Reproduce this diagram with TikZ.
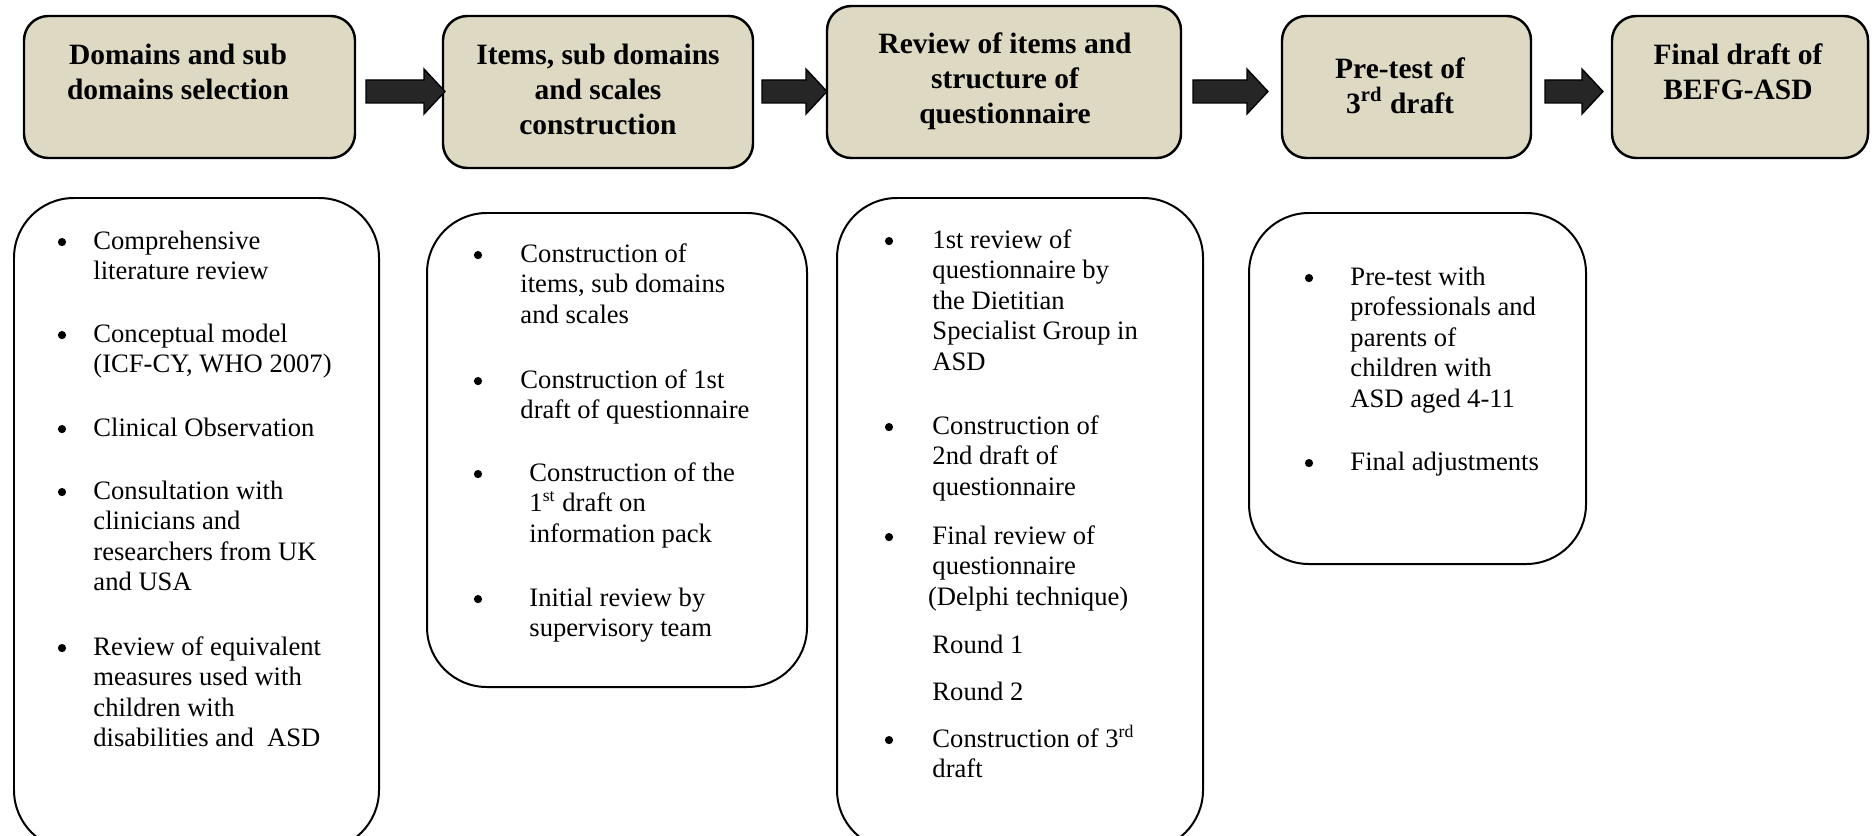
\documentclass[tikz,border=0pt]{standalone}
\usepackage{fontspec}
\setmainfont{Liberation Serif}
\usetikzlibrary{calc,fit}

\definecolor{stagefill}{HTML}{DDD9C3}
\definecolor{arrowfill}{HTML}{262626}

% struts fixing the height of the first line of each text block
\newcommand\itemstrut{\rule{0pt}{10pt}}
\newcommand\titlestrut{\rule{0pt}{11pt}}

\tikzset{
  stagebox/.style={draw=black, line width=1.1pt, fill=stagefill, rounded corners=11pt, inner sep=0pt},
  notebox/.style={draw=black, line width=0.9pt, fill=white, rounded corners=27pt, inner sep=0pt},
  stagetitle/.style={anchor=north, inner sep=0pt, align=center,
    font=\fontsize{13.3pt}{15.65pt}\selectfont\bfseries},
  itemtext/.style={anchor=north west, inner sep=0pt, align=left,
    font=\fontsize{12pt}{13.76pt}\selectfont},
  bulletmark/.style={circle, fill=black, inner sep=0pt, minimum size=3.7pt, yshift=2.9pt},
  blockarrow/.style={draw=black, line width=0.6pt, fill=arrowfill},
}

% thick block arrow from tail coordinate #1 to tip coordinate #2
\newcommand\blockarrowdraw[2]{%
  \draw[blockarrow] ($(#1)+(0,-11.5)$) -- ($(#2)+(-21,-11.5)$) -- ($(#2)+(-21,-22.5)$)
    -- (#2) -- ($(#2)+(-21,22.5)$) -- ($(#2)+(-21,11.5)$) -- ($(#1)+(0,11.5)$) -- cycle;}

\begin{document}
\begin{tikzpicture}[x=0.451pt, y=-0.451pt]
\useasboundingbox (0,0) rectangle (1874,835);

% ---------- stage boxes ----------
\node[stagebox, fit={(24,16) (355,158)}] (b1) {};
\node[stagebox, fit={(443,16) (753,168)}] (b2) {};
\node[stagebox, fit={(827,6) (1181,158)}] (b3) {};
\node[stagebox, fit={(1282,16) (1531,158)}] (b4) {};
\node[stagebox, fit={(1612,16) (1868,158)}] (b5) {};

\node[stagetitle] (t1) at (178,40) {\titlestrut Domains and sub\\domains selection};
\node[stagetitle] (t2) at (598,40) {\titlestrut Items, sub domains\\and scales\\construction};
\node[stagetitle] (t3) at (1005,29) {\titlestrut Review of items and\\structure of\\questionnaire};
\node[stagetitle] (t4) at (1400,54) {\titlestrut Pre-test of\\3\textsuperscript{rd} draft};
\node[stagetitle] (t5) at (1738,40) {\titlestrut Final draft of\\BEFG-ASD};

% ---------- arrows between stages ----------
\coordinate (a1s) at (366,91.5);  \coordinate (a1e) at (445,91.5);
\coordinate (a2s) at (762,91.5);  \coordinate (a2e) at (827,91.5);
\coordinate (a3s) at (1193,91.5); \coordinate (a3e) at (1268,91.5);
\coordinate (a4s) at (1545,91.5); \coordinate (a4e) at (1603,91.5);
\blockarrowdraw{a1s}{a1e}
\blockarrowdraw{a2s}{a2e}
\blockarrowdraw{a3s}{a3e}
\blockarrowdraw{a4s}{a4e}

% ---------- detail boxes ----------
\node[notebox, fit={(14,198) (379,850)}] (n1) {};
\node[notebox, fit={(427,213) (807,687)}] (n2) {};
\node[notebox, fit={(837,198) (1203,850)}] (n3) {};
\node[notebox, fit={(1249,213) (1586,564)}] (n4) {};

% column 1
\node[bulletmark] (p1a) at (62,248.5) {};
\node[itemtext] (q1a) at (93,226.5) {\itemstrut Comprehensive\\literature review};
\node[bulletmark] (p1b) at (62,341.5) {};
\node[itemtext] (q1b) at (93,319.5) {\itemstrut Conceptual model\\(ICF-CY, WHO 2007)};
\node[bulletmark] (p1c) at (62,435.5) {};
\node[itemtext] (q1c) at (93,413.5) {\itemstrut Clinical Observation};
\node[bulletmark] (p1d) at (62,498.5) {};
\node[itemtext] (q1d) at (93,476.5) {\itemstrut Consultation with\\clinicians and\\researchers from UK\\and USA};
\node[bulletmark] (p1e) at (62,654.5) {};
\node[itemtext] (q1e) at (93,632.5) {\itemstrut Review of equivalent\\measures used with\\children with\\disabilities and\ \ ASD};

% column 2
\node[bulletmark] (p2a) at (478,261.5) {};
\node[itemtext] (q2a) at (520,239.5) {\itemstrut Construction of\\items, sub domains\\and scales};
\node[bulletmark] (p2b) at (478,387.5) {};
\node[itemtext] (q2b) at (520,365.5) {\itemstrut Construction of 1st\\draft of questionnaire};
\node[bulletmark] (p2c) at (478,480.5) {};
\node[itemtext] (q2c) at (529,458.5) {\itemstrut Construction of the\\1\textsuperscript{st} draft on\\information pack};
\node[bulletmark] (p2d) at (478,605.5) {};
\node[itemtext] (q2d) at (529,583.5) {\itemstrut Initial review by\\supervisory team};

% column 3
\node[bulletmark] (p3a) at (889,247.5) {};
\node[itemtext] (q3a) at (932,225.5) {\itemstrut 1st review of\\questionnaire by\\the Dietitian\\Specialist Group in\\ASD};
\node[bulletmark] (p3b) at (889,433.5) {};
\node[itemtext] (q3b) at (932,411.5) {\itemstrut Construction of\\2nd draft of\\questionnaire};
\node[bulletmark] (p3c) at (889,543.5) {};
\node[itemtext] (q3c) at (932,521.5) {\itemstrut Final review of\\questionnaire\\\kern-2pt(Delphi technique)};
\node[itemtext] (q3d) at (932,630.5) {\itemstrut Round 1};
\node[itemtext] (q3e) at (932,677.5) {\itemstrut Round 2};
\node[bulletmark] (p3f) at (889,746.5) {};
\node[itemtext] (q3f) at (932,724.5) {\itemstrut Construction of 3\textsuperscript{rd}\\draft};

% column 4
\node[bulletmark] (p4a) at (1309,284.5) {};
\node[itemtext] (q4a) at (1350,262.5) {\itemstrut Pre-test with\\professionals and\\parents of\\children with\\ASD aged 4-11};
\node[bulletmark] (p4b) at (1309,469.5) {};
\node[itemtext] (q4b) at (1350,447.5) {\itemstrut Final adjustments};
\end{tikzpicture}
\end{document}
